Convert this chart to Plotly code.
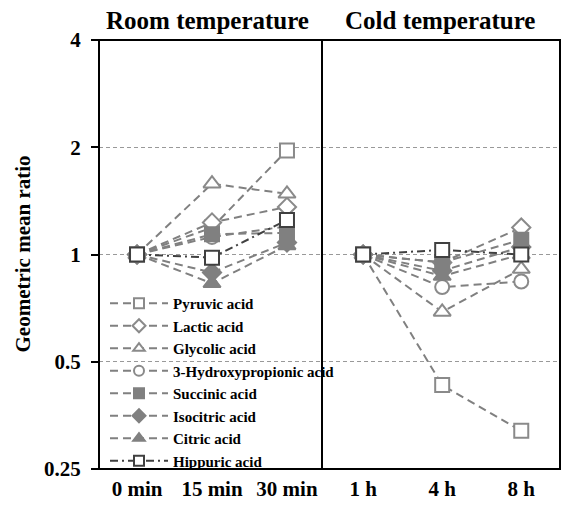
import math
import plotly.graph_objects as go

room_times = ["0 min", "15 min", "30 min"]
cold_times = ["1 h", "4 h", "8 h"]

acids = ["Pyruvic acid", "Lactic acid", "Glycolic acid", "3-Hydroxypropionic acid",
         "Succinic acid", "Isocitric acid", "Citric acid", "Hippuric acid"]

room_values = {
    "Pyruvic acid": [1, 1.19, 1.96],
    "Lactic acid": [1, 1.23, 1.36],
    "Glycolic acid": [1, 1.58, 1.48],
    "3-Hydroxypropionic acid": [1, 1.12, 1.2],
    "Succinic acid": [1, 1.14, 1.15],
    "Isocitric acid": [1, 0.89, 1.08],
    "Citric acid": [1, 0.83, 1.06],
    "Hippuric acid": [1, 0.98, 1.25],
}
cold_values = {
    "Pyruvic acid": [1, 0.43, 0.32],
    "Lactic acid": [1, 0.95, 1.19],
    "Glycolic acid": [1, 0.69, 0.91],
    "3-Hydroxypropionic acid": [1, 0.81, 0.84],
    "Succinic acid": [1, 0.95, 1.10],
    "Isocitric acid": [1, 0.90, 1.05],
    "Citric acid": [1, 0.87, 1.0],
    "Hippuric acid": [1, 1.03, 1.0],
}

y_ticks = [0.25, 0.5, 1, 2, 4]
y_ticktext = ["0.25", "0.5", "1", "2", "4"]

LIGHT = "#8a8a8a"
MID = "#808080"
DARK = "#404040"
styles = {
    "Pyruvic acid": dict(symbol="square", fill="white", edge=LIGHT, size=14, dash="8px,5px", lc=MID),
    "Lactic acid": dict(symbol="diamond", fill="white", edge=LIGHT, size=14, dash="8px,5px", lc=MID),
    "Glycolic acid": dict(symbol="triangle-up", fill="white", edge=LIGHT, size=15, dash="8px,5px", lc=MID),
    "3-Hydroxypropionic acid": dict(symbol="circle", fill="white", edge=LIGHT, size=14, dash="8px,5px", lc=MID),
    "Succinic acid": dict(symbol="square", fill=MID, edge=MID, size=14, dash="8px,5px", lc=MID),
    "Isocitric acid": dict(symbol="diamond", fill=MID, edge=MID, size=14, dash="8px,5px", lc=MID),
    "Citric acid": dict(symbol="triangle-up", fill=MID, edge=MID, size=15, dash="8px,5px", lc=MID),
    "Hippuric acid": dict(symbol="square", fill="white", edge=DARK, size=14, dash="8px,4px,2px,4px", lc=DARK),
}

FONT = "Liberation Serif"
fig = go.Figure()

for name in acids:
    s = styles[name]
    common = dict(
        mode="lines+markers",
        line=dict(color=s["lc"], width=2, dash=s["dash"]),
        marker=dict(symbol=s["symbol"], size=s["size"], color=s["fill"],
                    line=dict(color=s["edge"], width=2)),
        name=name, legendgroup=name, cliponaxis=False, showlegend=False,
    )
    fig.add_trace(go.Scatter(x=room_times, y=room_values[name], xaxis="x", yaxis="y", **common))
    fig.add_trace(go.Scatter(x=cold_times, y=cold_values[name], xaxis="x2", yaxis="y", **common))

# legend entries (smaller sample markers, as in the reference legend)
for name in acids:
    s = styles[name]
    fig.add_trace(go.Scatter(
        x=[None], y=[None], xaxis="x", yaxis="y", mode="lines+markers",
        line=dict(color=s["lc"], width=2, dash=s["dash"]),
        marker=dict(symbol=s["symbol"], size=10, color=s["fill"],
                    line=dict(color=s["edge"], width=2)),
        name=name, legendgroup=name, showlegend=True, hoverinfo="skip"))

split = 223 / 461
tickfont = dict(family=FONT, size=21, color="black", weight="bold")

fig.update_layout(
    width=562, height=506,
    margin=dict(l=99, r=2, t=40, b=37),
    paper_bgcolor="white", plot_bgcolor="white",
    font=dict(family=FONT, color="black"),
    xaxis=dict(domain=[0, split], type="category", range=[-0.507, 2.467],
               showgrid=False, zeroline=False, showline=False, ticks="",
               tickfont=tickfont, ticklabelstandoff=5, anchor="y"),
    xaxis2=dict(domain=[split, 1], type="category", range=[-0.52, 2.49],
                showgrid=False, zeroline=False, showline=False, ticks="",
                tickfont=tickfont, ticklabelstandoff=5, anchor="y"),
    yaxis=dict(type="log", range=[math.log10(0.25), math.log10(4)],
               tickvals=y_ticks, ticktext=y_ticktext,
               showgrid=True, gridcolor="#999999", griddash="4px,3px", gridwidth=1,
               ticks="outside", ticklen=7, tickwidth=1.5, tickcolor="black",
               tickfont=tickfont, ticklabelstandoff=6,
               showline=False, zeroline=False, anchor="x"),
    legend=dict(x=6 / 461, y=-8 / 429, xanchor="left", yanchor="bottom",
                bgcolor="rgba(0,0,0,0)", borderwidth=0,
                font=dict(family=FONT, size=15, color="black", weight="bold"),
                itemwidth=58, tracegroupgap=0),
    showlegend=True,
)

# reference line at ratio 1 (log10(1) = 0)
fig.add_shape(type="line", xref="paper", yref="y", x0=0, x1=1, y0=0, y1=0,
              line=dict(color="black", width=2), layer="below")
# frame and divider
fig.add_shape(type="rect", xref="paper", yref="paper", x0=0, x1=1, y0=0, y1=1,
              line=dict(color="black", width=2))
fig.add_shape(type="line", xref="paper", yref="paper", x0=split, x1=split, y0=0, y1=1,
              line=dict(color="black", width=2))

title_font = dict(family=FONT, size=25, color="black", weight="bold")
fig.add_annotation(text="Room temperature", xref="paper", yref="paper",
                   x=(207 - 99) / 461, y=(469 - 20) / 429, xanchor="center", yanchor="middle",
                   showarrow=False, font=title_font)
fig.add_annotation(text="Cold temperature", xref="paper", yref="paper",
                   x=(440 - 99) / 461, y=(469 - 20) / 429, xanchor="center", yanchor="middle",
                   showarrow=False, font=title_font)
fig.add_annotation(text="Geometric mean ratio", xref="paper", yref="paper",
                   x=(22 - 99) / 461, y=0.5, xanchor="center", yanchor="middle",
                   textangle=-90, showarrow=False,
                   font=dict(family=FONT, size=21, color="black", weight="bold"))

fig.write_html("out.html")
